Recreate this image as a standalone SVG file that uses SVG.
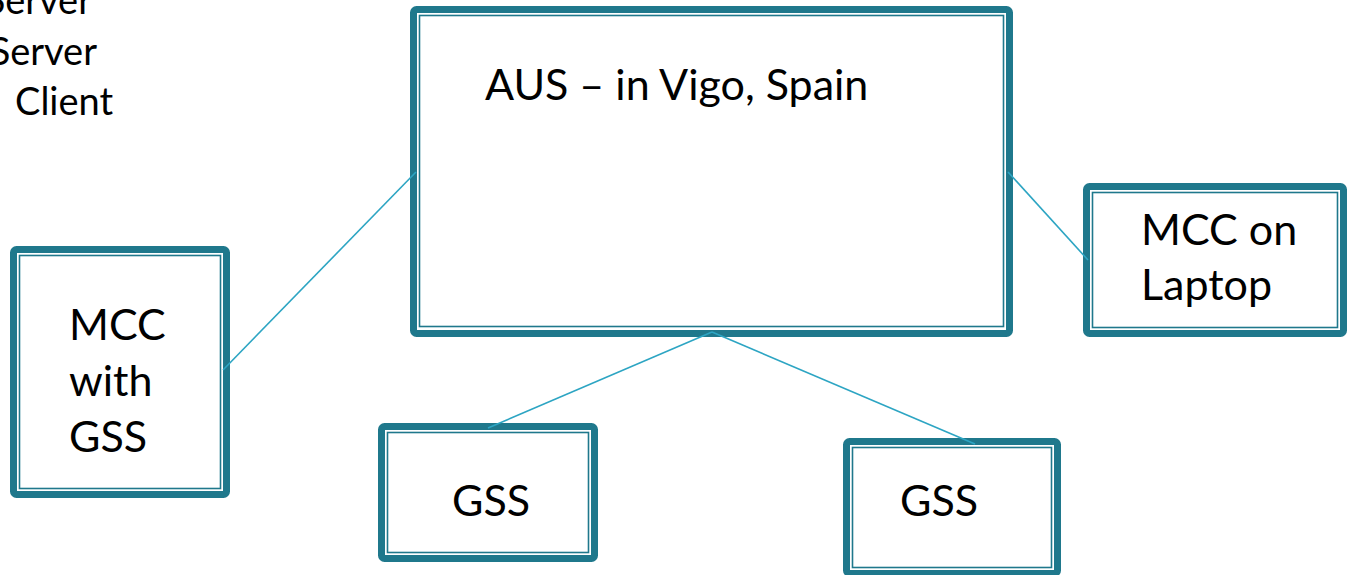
<svg xmlns="http://www.w3.org/2000/svg" width="1347" height="575" viewBox="0 0 1347 575">
<style>
.thick{fill:#ffffff;stroke:#1f788c;stroke-width:7;stroke-linejoin:round}
.thin{fill:none;stroke:#1f788c;stroke-width:1.6}
.t{font-family:Lato,"Open Sans","Liberation Sans",sans-serif;font-size:43px;fill:#000}
.s{font-family:Lato,"Open Sans","Liberation Sans",sans-serif;font-size:38px;fill:#000}
.c{stroke:#2da5c3;stroke-width:1.6;fill:none}
</style>
<rect width="1347" height="575" fill="#ffffff"/>
<g id="bullets">
<text class="s" x="92" y="14" text-anchor="end">Server</text>
<text class="s" x="97" y="65" text-anchor="end">Server</text>
<text class="s" x="15" y="115">Client</text>
</g>
<g id="aus">
<rect class="thick" x="413.5" y="9.5" width="596" height="324" rx="3"/>
<rect class="thin" x="419.5" y="15.5" width="584" height="311"/>
<text class="t" x="485" y="100">AUS – in Vigo, Spain</text>
</g>
<g id="mcc-gss">
<rect class="thick" x="13.5" y="249.5" width="213" height="245" rx="3"/>
<rect class="thin" x="19.5" y="255.5" width="201" height="233"/>
<text class="t" x="69" y="340">MCC</text>
<text class="t" x="69" y="396">with</text>
<text class="t" x="69" y="452">GSS</text>
</g>
<g id="mcc-laptop">
<rect class="thick" x="1086.5" y="186.5" width="257" height="147" rx="3"/>
<rect class="thin" x="1092.5" y="192.5" width="245" height="135"/>
<text class="t" x="1141" y="245">MCC on</text>
<text class="t" x="1141" y="300">Laptop</text>
</g>
<g id="gss1">
<rect class="thick" x="381.5" y="426.5" width="213" height="132" rx="3"/>
<rect class="thin" x="387.5" y="432.5" width="201" height="120"/>
<text class="t" x="452" y="516">GSS</text>
</g>
<g id="gss2">
<rect class="thick" x="846.5" y="441.5" width="211" height="132" rx="3"/>
<rect class="thin" x="852.5" y="447.5" width="199" height="120"/>
<text class="t" x="900" y="516">GSS</text>
</g>
<g id="connectors">
<line class="c" x1="223" y1="370" x2="416" y2="172"/>
<line class="c" x1="1008" y1="172" x2="1088" y2="260"/>
<line class="c" x1="712" y1="332" x2="488" y2="428"/>
<line class="c" x1="712" y1="332" x2="975" y2="444"/>
</g>
</svg>
